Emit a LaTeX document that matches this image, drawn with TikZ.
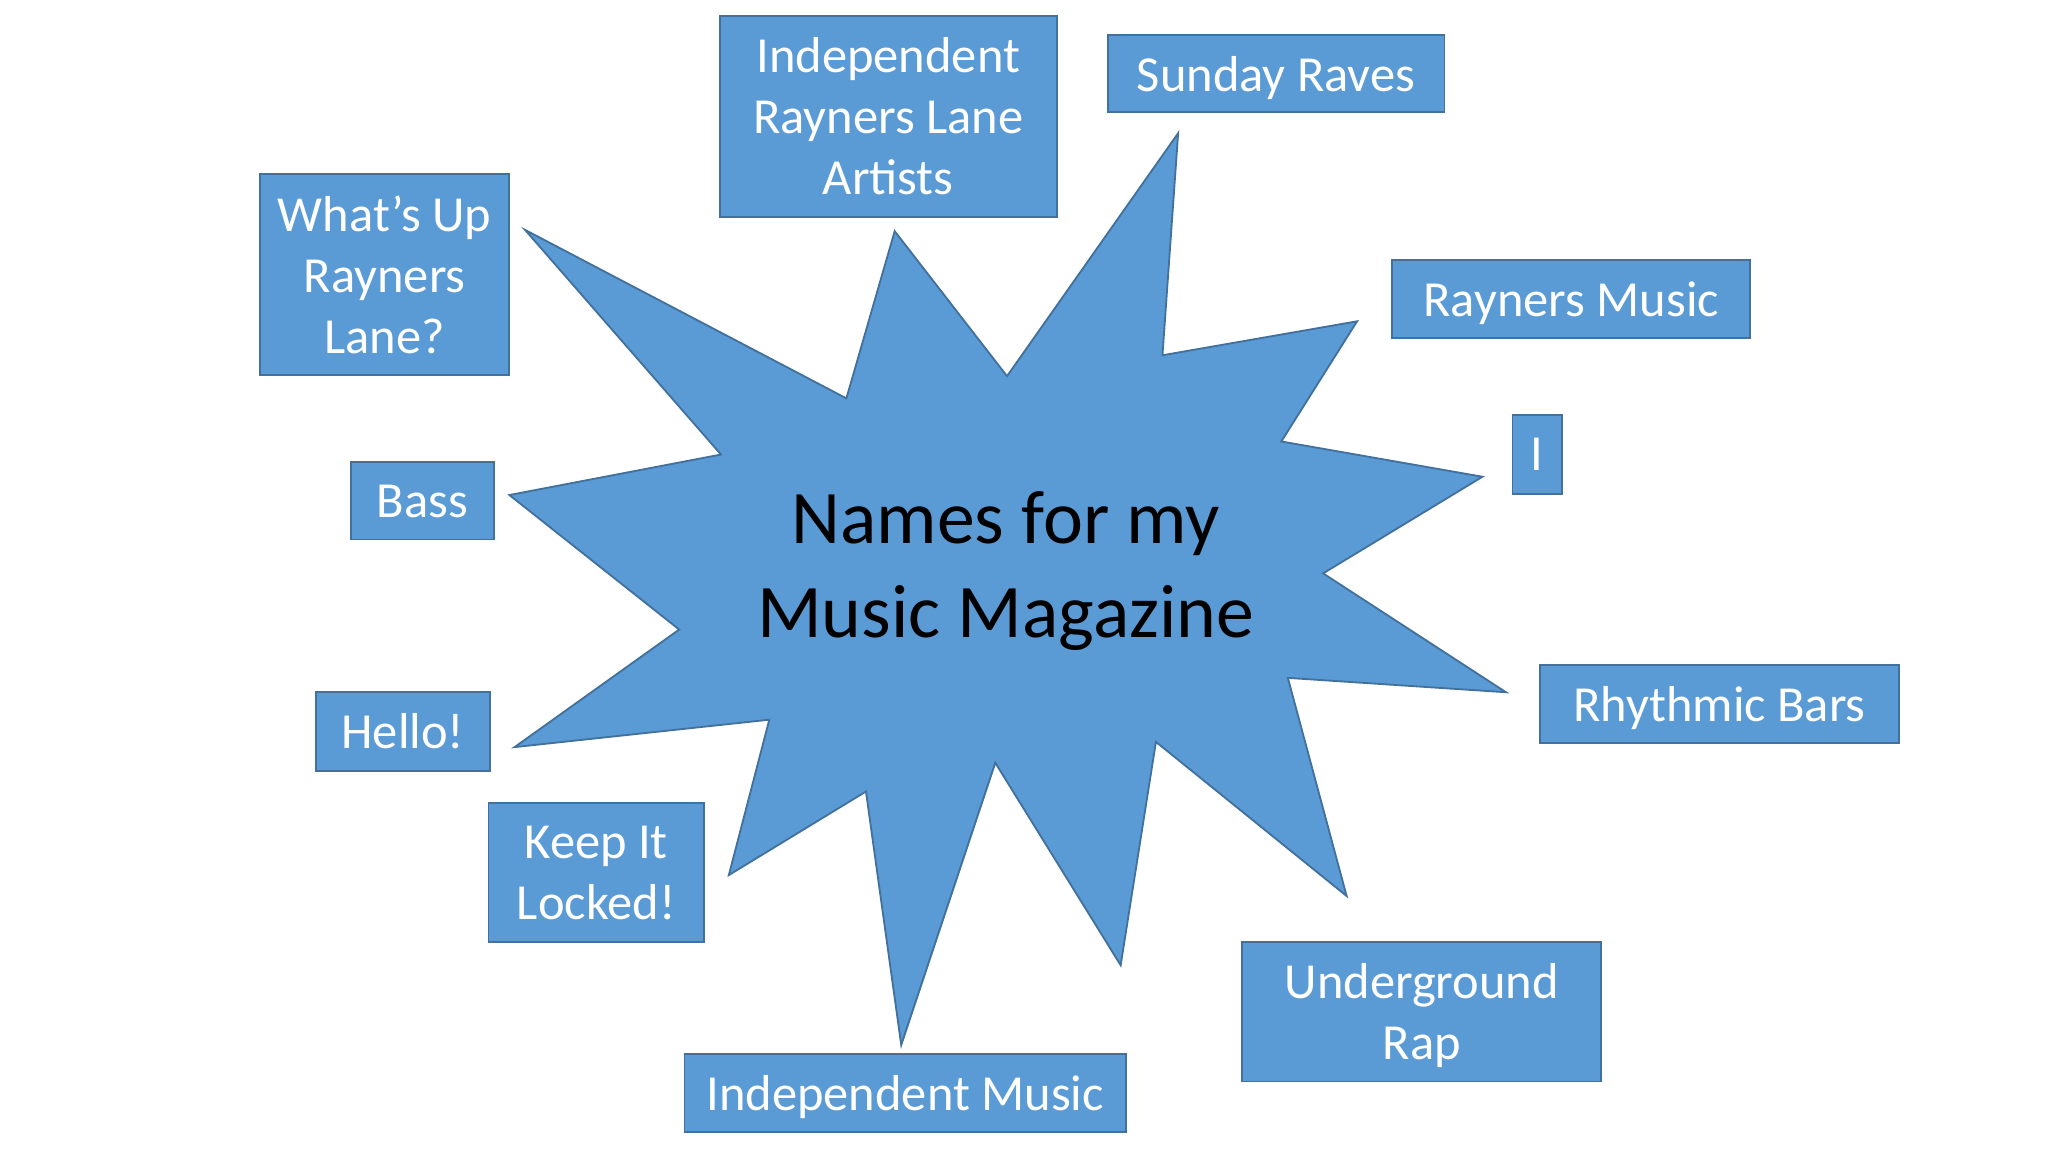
\documentclass[tikz,border=0pt]{standalone}
\usepackage{fontspec}
\setmainfont{Carlito}
\definecolor{slideBlue}{RGB}{91, 155, 213}
\definecolor{slideEdge}{RGB}{65, 113, 156}
\usepackage{tikz}
\usetikzlibrary{positioning}

\begin{document}
\begin{tikzpicture}[
    x=0.02cm, y=-0.02cm,
    namebox/.style={rectangle, draw=slideEdge, line width=0.8pt, fill=slideBlue,
                    text=white, inner sep=0pt, align=center, text depth=0pt,
                    font=\fontsize{22}{26.6}\selectfont},
  ]
    \fill[white] (0,0) rectangle (1568,882);

    \filldraw[fill=slideBlue, draw=slideEdge, line width=0.8pt]
      (402,176) -- (648,305) -- (685,177) -- (771,288) -- (902,102) -- (890,272)
      -- (1039,246) -- (981,338) -- (1135,365) -- (1013,439) -- (1153,530)
      -- (986,519) -- (1031,686) -- (885,568) -- (858,739) -- (762,584)
      -- (690,800) -- (663,606) -- (558,670) -- (589,551) -- (394,572)
      -- (520,482) -- (390,379) -- (552,348) -- cycle;

    \node[font=\fontsize{33}{40.8}\selectfont, align=center] (title) at (770,437)
      {Names for my\\Music Magazine};

    \node[namebox, minimum width=5.16cm, minimum height=3.08cm] (artists) at (680,89)
      {Independent\\Rayners Lane\\Artists};
    \node[namebox, minimum width=5.16cm, minimum height=1.18cm] (sunday) at (977,56.5)
      {Sunday Raves};
    \node[namebox, minimum width=3.82cm, minimum height=3.08cm] (whatsup) at (294.5,210)
      {What’s Up\\Rayners\\Lane?};
    \node[namebox, minimum width=5.48cm, minimum height=1.2cm] (rmusic) at (1203,229)
      {Rayners Music};
    \node[namebox, minimum width=0.76cm, minimum height=1.2cm] (letterI) at (1177,348)
      {I};
    \node[namebox, minimum width=2.18cm, minimum height=1.18cm] (bass) at (323.5,383.5)
      {Bass};
    \node[namebox, minimum width=5.5cm, minimum height=1.2cm] (rhythmic) at (1316.5,539)
      {Rhythmic Bars};
    \node[namebox, minimum width=2.66cm, minimum height=1.2cm] (hello) at (308.5,560)
      {Hello!};
    \node[namebox, minimum width=3.3cm, minimum height=2.12cm] (locked) at (456.5,668)
      {Keep It\\Locked!};
    \node[namebox, minimum width=5.5cm, minimum height=2.14cm] (rap) at (1088.5,774.5)
      {Underground\\Rap};
    \node[namebox, minimum width=6.76cm, minimum height=1.2cm] (indmusic) at (693,837)
      {Independent Music};
  \end{tikzpicture}
\end{document}
